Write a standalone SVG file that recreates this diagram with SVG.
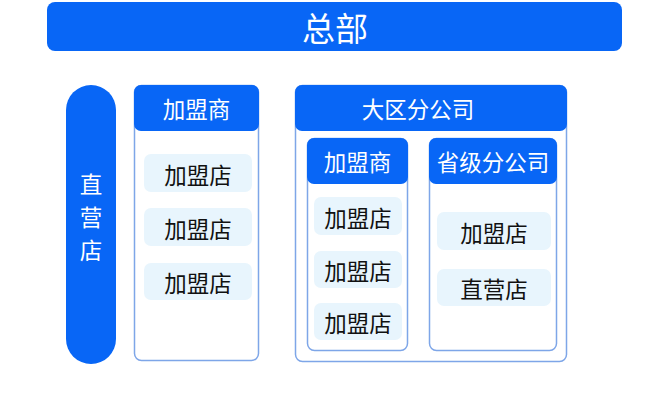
<svg xmlns="http://www.w3.org/2000/svg" width="670" height="420" viewBox="0 0 670 420">
<style>
.hd{fill:#0866f6}
.frame{fill:#ffffff;stroke:#7ea6e8;stroke-width:1.5}
.item{fill:#e8f5fd}
text{font-family:"Noto Sans CJK SC","Noto Sans",sans-serif;text-anchor:middle;dominant-baseline:central}
.wt{fill:#ffffff;font-size:22.5px}
.bt{fill:#111111;font-size:22.5px}
</style>
<rect width="670" height="420" fill="#ffffff"/>
<g id="hq">
<rect class="hd" x="47" y="2" width="575" height="49" rx="8"/>
<text class="wt" x="335" y="26.5" style="font-size:33px">总部</text>
</g>
<g id="direct">
<rect class="hd" x="66" y="85" width="50" height="279" rx="25"/>
<text class="wt" x="91" y="183">直</text>
<text class="wt" x="91" y="216">营</text>
<text class="wt" x="91" y="249">店</text>
</g>
<g id="franchisor-left">
<rect class="frame" x="134.5" y="85.5" width="124" height="275" rx="7"/>
<rect class="hd" x="134" y="85" width="125" height="46" rx="7"/>
<text class="wt" x="196.5" y="108">加盟商</text>
</g>
<g id="store-l1"><rect class="item" x="144" y="154" width="108" height="38" rx="7"/><text class="bt" x="198" y="173.5">加盟店</text></g>
<g id="store-l2"><rect class="item" x="144" y="208" width="108" height="38" rx="7"/><text class="bt" x="198" y="227.5">加盟店</text></g>
<g id="store-l3"><rect class="item" x="144" y="263" width="108" height="37" rx="7"/><text class="bt" x="198" y="282">加盟店</text></g>
<g id="region">
<rect class="frame" x="295.5" y="85.5" width="271" height="276" rx="7"/>
<rect class="hd" x="295" y="85" width="272" height="46" rx="7"/>
<text class="wt" x="418" y="108">大区分公司</text>
</g>
<g id="franchisor-inner">
<rect class="frame" x="307.5" y="138.5" width="100" height="212" rx="7"/>
<rect class="hd" x="307" y="138" width="101" height="46" rx="7"/>
<text class="wt" x="357.5" y="161">加盟商</text>
</g>
<g id="store-m1"><rect class="item" x="314" y="197" width="88" height="38" rx="7"/><text class="bt" x="358" y="216.5">加盟店</text></g>
<g id="store-m2"><rect class="item" x="314" y="251" width="88" height="37" rx="7"/><text class="bt" x="358" y="270">加盟店</text></g>
<g id="store-m3"><rect class="item" x="314" y="303" width="88" height="37" rx="7"/><text class="bt" x="358" y="322">加盟店</text></g>
<g id="province">
<rect class="frame" x="429.5" y="138.5" width="127" height="212" rx="7"/>
<rect class="hd" x="429" y="138" width="128" height="46" rx="7"/>
<text class="wt" x="493" y="161">省级分公司</text>
</g>
<g id="store-r1"><rect class="item" x="437" y="212" width="114" height="38" rx="7"/><text class="bt" x="494" y="231.5">加盟店</text></g>
<g id="store-r2"><rect class="item" x="437" y="269" width="114" height="37" rx="7"/><text class="bt" x="494" y="288">直营店</text></g>
<g id="connectors"></g>
</svg>
